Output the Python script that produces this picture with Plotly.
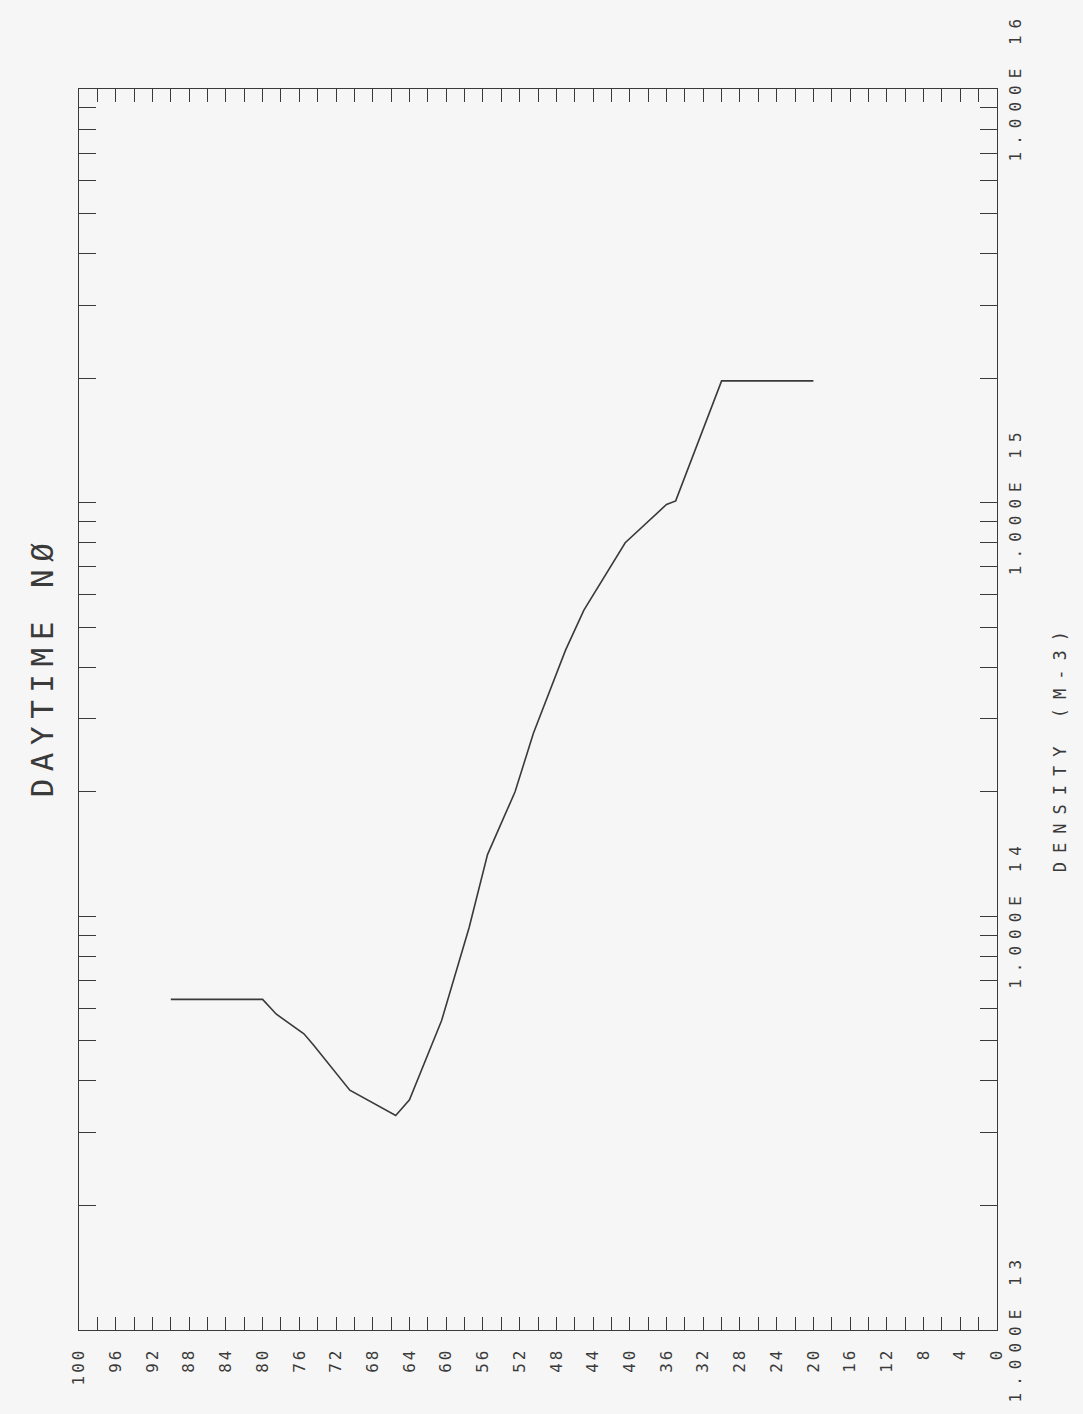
import plotly.graph_objects as go

# Daytime NO density profile: altitude (km) vs number density (m^-3)
altitude_km = [90, 80, 78.5, 75.5, 74.5, 70.5, 65.5, 64, 60.5, 57.5, 55.5,
               52.5, 50.5, 47, 45, 40.5, 36, 35, 30, 20]
no_density = [6.3e13, 6.3e13, 5.8e13, 5.2e13, 4.9e13, 3.8e13, 3.3e13, 3.6e13,
              5.6e13, 9.4e13, 1.41e14, 2.0e14, 2.77e14, 4.4e14, 5.5e14,
              8.0e14, 9.9e14, 1.01e15, 1.97e15, 1.97e15]

# Axis ticks
altitude_ticks = list(range(0, 101, 2))
altitude_labels = [str(v) if v % 4 == 0 else "" for v in altitude_ticks]
density_decades = [13, 14, 15, 16]
density_labels = ["1.000E 13", "1.000E 14", "1.000E 15", "1.000E 16"]

INK = "#3a3a3a"
BG = "#f6f6f6"
MONO = "DejaVu Sans Mono"


def spaced(text, px):
    return f'<span style="letter-spacing:{px}px">{text}</span>'


# log ticks: decades labelled, 2..9 multiples unlabelled
dens_vals, dens_text = [], []
for i, d in enumerate(density_decades):
    dens_vals.append(10.0 ** d)
    dens_text.append(spaced(density_labels[i], 7))
    if d < density_decades[-1]:
        for m in range(2, 10):
            dens_vals.append(m * 10.0 ** d)
            dens_text.append("")

fig = go.Figure()
fig.add_trace(go.Scatter(
    x=altitude_km, y=no_density, mode="lines",
    line=dict(color=INK, width=1.6), showlegend=False,
))

fig.update_xaxes(
    range=[100, 0], tickvals=altitude_ticks,
    ticktext=[spaced(t, 3) if t else "" for t in altitude_labels],
    tickangle=-90, ticks="inside", ticklen=13, tickwidth=1.2, tickcolor=INK,
    showline=True, linecolor=INK, linewidth=1.2, mirror="ticks",
    showgrid=False, zeroline=False, ticklabelstandoff=10,
    tickfont=dict(family=MONO, size=16, color=INK),
)
fig.update_yaxes(
    type="log", range=[13, 16], side="right",
    tickvals=dens_vals, ticktext=dens_text,
    tickangle=-90, ticks="inside", ticklen=17, tickwidth=1.2, tickcolor=INK,
    showline=True, linecolor=INK, linewidth=1.2, mirror="ticks",
    showgrid=False, zeroline=False, ticklabelstandoff=4,
    tickfont=dict(family=MONO, size=16, color=INK),
)

fig.add_annotation(
    text=spaced("DAYTIME NØ", 7.5), xref="paper", yref="paper",
    x=-0.04, y=0.535, xanchor="center", yanchor="middle",
    textangle=-90, showarrow=False,
    font=dict(family=MONO, size=31, color=INK),
)
fig.add_annotation(
    text=spaced("DENSITY (M-3)", 9), xref="paper", yref="paper",
    x=1.068, y=0.47, xanchor="center", yanchor="middle",
    textangle=-90, showarrow=False,
    font=dict(family=MONO, size=17, color=INK),
)

fig.update_layout(
    width=1083, height=1414,
    margin=dict(l=79, r=86, t=83, b=78),
    paper_bgcolor=BG, plot_bgcolor=BG,
)

fig.write_html("out.html")
